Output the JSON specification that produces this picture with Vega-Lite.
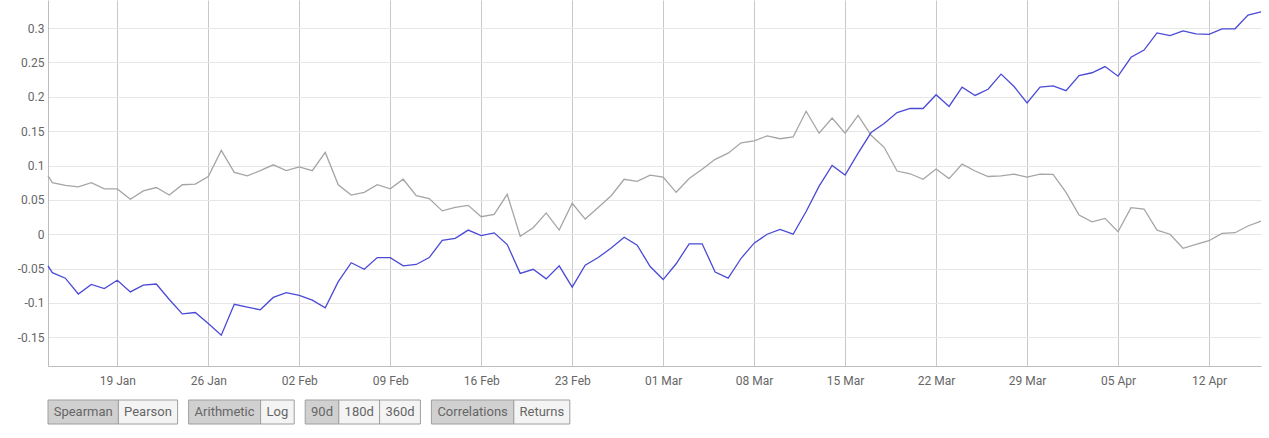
{
  "$schema": "https://vega.github.io/schema/vega-lite/v6.json",
  "background": "white",
  "padding": {"left": 0, "top": 0, "right": 0, "bottom": 0},
  "config": {"view": {"stroke": null}, "font": "Roboto"},
  "spacing": 34,
  "bounds": "flush",
  "vconcat": [
    {
      "width": 1213,
      "height": 366,
      "data": {"values": [
        {"date": "2020-01-13T16:00:00Z", "a": -0.046, "b": 0.085},
        {"date": "2020-01-14", "a": -0.056, "b": 0.075},
        {"date": "2020-01-15", "a": -0.064, "b": 0.071},
        {"date": "2020-01-16", "a": -0.087, "b": 0.069},
        {"date": "2020-01-17", "a": -0.073, "b": 0.075},
        {"date": "2020-01-18", "a": -0.079, "b": 0.066},
        {"date": "2020-01-19", "a": -0.067, "b": 0.066},
        {"date": "2020-01-20", "a": -0.084, "b": 0.051},
        {"date": "2020-01-21", "a": -0.074, "b": 0.063},
        {"date": "2020-01-22", "a": -0.0725, "b": 0.068},
        {"date": "2020-01-23", "a": -0.095, "b": 0.057},
        {"date": "2020-01-24", "a": -0.116, "b": 0.072},
        {"date": "2020-01-25", "a": -0.114, "b": 0.073},
        {"date": "2020-01-26", "a": -0.130, "b": 0.084},
        {"date": "2020-01-27", "a": -0.147, "b": 0.122},
        {"date": "2020-01-28", "a": -0.102, "b": 0.090},
        {"date": "2020-01-29", "a": -0.106, "b": 0.085},
        {"date": "2020-01-30", "a": -0.110, "b": 0.0925},
        {"date": "2020-01-31", "a": -0.092, "b": 0.101},
        {"date": "2020-02-01", "a": -0.085, "b": 0.0925},
        {"date": "2020-02-02", "a": -0.089, "b": 0.098},
        {"date": "2020-02-03", "a": -0.096, "b": 0.0925},
        {"date": "2020-02-04", "a": -0.107, "b": 0.119},
        {"date": "2020-02-05", "a": -0.069, "b": 0.072},
        {"date": "2020-02-06", "a": -0.0415, "b": 0.057},
        {"date": "2020-02-07", "a": -0.051, "b": 0.061},
        {"date": "2020-02-08", "a": -0.034, "b": 0.072},
        {"date": "2020-02-09", "a": -0.034, "b": 0.066},
        {"date": "2020-02-10", "a": -0.046, "b": 0.080},
        {"date": "2020-02-11", "a": -0.044, "b": 0.056},
        {"date": "2020-02-12", "a": -0.034, "b": 0.052},
        {"date": "2020-02-13", "a": -0.009, "b": 0.034},
        {"date": "2020-02-14", "a": -0.006, "b": 0.039},
        {"date": "2020-02-15", "a": 0.006, "b": 0.042},
        {"date": "2020-02-16", "a": -0.002, "b": 0.0255},
        {"date": "2020-02-17", "a": 0.002, "b": 0.029},
        {"date": "2020-02-18", "a": -0.015, "b": 0.058},
        {"date": "2020-02-19", "a": -0.057, "b": -0.003},
        {"date": "2020-02-20", "a": -0.051, "b": 0.0095},
        {"date": "2020-02-21", "a": -0.065, "b": 0.031},
        {"date": "2020-02-22", "a": -0.046, "b": 0.006},
        {"date": "2020-02-23", "a": -0.077, "b": 0.045},
        {"date": "2020-02-24", "a": -0.045, "b": 0.022},
        {"date": "2020-02-25", "a": -0.034, "b": 0.039},
        {"date": "2020-02-26", "a": -0.020, "b": 0.056},
        {"date": "2020-02-27", "a": -0.0045, "b": 0.080},
        {"date": "2020-02-28", "a": -0.016, "b": 0.077},
        {"date": "2020-02-29", "a": -0.047, "b": 0.086},
        {"date": "2020-03-01", "a": -0.066, "b": 0.083},
        {"date": "2020-03-02", "a": -0.043, "b": 0.061},
        {"date": "2020-03-03", "a": -0.014, "b": 0.081},
        {"date": "2020-03-04", "a": -0.014, "b": 0.0945},
        {"date": "2020-03-05", "a": -0.055, "b": 0.109},
        {"date": "2020-03-06", "a": -0.064, "b": 0.118},
        {"date": "2020-03-07", "a": -0.035, "b": 0.133},
        {"date": "2020-03-08", "a": -0.013, "b": 0.136},
        {"date": "2020-03-09", "a": 0.000, "b": 0.143},
        {"date": "2020-03-10", "a": 0.007, "b": 0.139},
        {"date": "2020-03-11", "a": 0.000, "b": 0.1415},
        {"date": "2020-03-12", "a": 0.033, "b": 0.179},
        {"date": "2020-03-13", "a": 0.070, "b": 0.147},
        {"date": "2020-03-14", "a": 0.100, "b": 0.169},
        {"date": "2020-03-15", "a": 0.086, "b": 0.147},
        {"date": "2020-03-16", "a": 0.118, "b": 0.173},
        {"date": "2020-03-17", "a": 0.148, "b": 0.144},
        {"date": "2020-03-18", "a": 0.161, "b": 0.1265},
        {"date": "2020-03-19", "a": 0.177, "b": 0.092},
        {"date": "2020-03-20", "a": 0.183, "b": 0.088},
        {"date": "2020-03-21", "a": 0.183, "b": 0.080},
        {"date": "2020-03-22", "a": 0.203, "b": 0.095},
        {"date": "2020-03-23", "a": 0.186, "b": 0.081},
        {"date": "2020-03-24", "a": 0.214, "b": 0.102},
        {"date": "2020-03-25", "a": 0.202, "b": 0.092},
        {"date": "2020-03-26", "a": 0.211, "b": 0.084},
        {"date": "2020-03-27", "a": 0.233, "b": 0.085},
        {"date": "2020-03-28", "a": 0.215, "b": 0.0875},
        {"date": "2020-03-29", "a": 0.191, "b": 0.083},
        {"date": "2020-03-30", "a": 0.214, "b": 0.0875},
        {"date": "2020-03-31", "a": 0.216, "b": 0.087},
        {"date": "2020-04-01", "a": 0.209, "b": 0.061},
        {"date": "2020-04-02", "a": 0.231, "b": 0.028},
        {"date": "2020-04-03", "a": 0.235, "b": 0.018},
        {"date": "2020-04-04", "a": 0.244, "b": 0.023},
        {"date": "2020-04-05", "a": 0.230, "b": 0.0036},
        {"date": "2020-04-06", "a": 0.2575, "b": 0.0386},
        {"date": "2020-04-07", "a": 0.268, "b": 0.0367},
        {"date": "2020-04-08", "a": 0.293, "b": 0.006},
        {"date": "2020-04-09", "a": 0.289, "b": 0.000},
        {"date": "2020-04-10", "a": 0.296, "b": -0.0205},
        {"date": "2020-04-11", "a": 0.2915, "b": -0.0147},
        {"date": "2020-04-12", "a": 0.291, "b": -0.0095},
        {"date": "2020-04-13", "a": 0.299, "b": 0.0013},
        {"date": "2020-04-14", "a": 0.299, "b": 0.0022},
        {"date": "2020-04-15", "a": 0.319, "b": 0.012},
        {"date": "2020-04-16", "a": 0.3235, "b": 0.019}
      ]},
      "encoding": {
        "x": {
          "field": "date", "type": "temporal",
          "scale": {"type": "utc", "nice": false},
          "axis": {
            "title": null,
            "labelExpr": "utcFormat(datum.value, '%d %b')",
            "tickCount": {"interval": "week", "step": 1},
            "ticks": false, "labelPadding": 9, "labelFlush": false, "labelOverlap": false,
            "domain": true, "domainColor": "#bdbdbd", "gridColor": "#c8c8c8",
            "labelColor": "#666666", "labelFontSize": 12, "labelFont": "Roboto"
          }
        }
      },
      "layer": [
        {
          "mark": {"type": "line", "color": "#a5a5a5", "strokeWidth": 1.3},
          "encoding": {
            "y": {
              "field": "b", "type": "quantitative",
              "scale": {"domain": [-0.1918, 0.3409], "nice": false, "zero": false},
              "axis": {
                "title": null,
                "values": [-0.15, -0.1, -0.05, 0, 0.05, 0.1, 0.15, 0.2, 0.25, 0.3],
                "labelExpr": "datum.value == 0 ? '0' : toString(round(datum.value * 100) / 100)",
                "ticks": false, "labelPadding": 4,
                "domain": true, "domainColor": "#bdbdbd", "gridColor": "#e6e6e6",
                "labelColor": "#666666", "labelFontSize": 12, "labelFont": "Roboto",
                "minExtent": 48, "maxExtent": 48
              }
            }
          }
        },
        {
          "mark": {"type": "line", "color": "#4a4ad6", "strokeWidth": 1.3},
          "encoding": {
            "y": {
              "field": "a", "type": "quantitative",
              "scale": {"domain": [-0.1918, 0.3409], "nice": false, "zero": false}
            }
          }
        }
      ]
    },
    {
      "width": 1213,
      "height": 24,
      "data": {"values": [
        {"order": 1, "group": 1, "label": "Spearman", "state": "on"},
        {"order": 2, "group": 1, "label": "Pearson", "state": "off"},
        {"order": 3, "group": 2, "label": "Arithmetic", "state": "on"},
        {"order": 4, "group": 2, "label": "Log", "state": "off"},
        {"order": 5, "group": 3, "label": "90d", "state": "on"},
        {"order": 6, "group": 3, "label": "180d", "state": "off"},
        {"order": 7, "group": 3, "label": "360d", "state": "off"},
        {"order": 8, "group": 4, "label": "Correlations", "state": "on"},
        {"order": 9, "group": 4, "label": "Returns", "state": "off"}
      ]},
      "transform": [
        {"calculate": "7.2 * length(datum.label) - 3.2 * (length(datum.label) - length(replace(datum.label, /[iltrfj]/g, ''))) + 4 * (length(datum.label) - length(replace(datum.label, /m/g, ''))) + 12", "as": "w"},
        {"window": [{"op": "sum", "field": "w", "as": "cum"}], "sort": [{"field": "order"}], "frame": [null, 0]},
        {"calculate": "datum.cum - datum.w + (datum.group - 1) * 11", "as": "start"},
        {"calculate": "datum.start + datum.w", "as": "end"},
        {"calculate": "datum.start + datum.w / 2", "as": "mid"}
      ],
      "layer": [
        {
          "mark": {"type": "rect", "stroke": "#9e9e9e", "strokeWidth": 1},
          "encoding": {
            "x": {"field": "start", "type": "quantitative", "scale": {"domain": [0, 1213], "nice": false, "zero": false}, "axis": null},
            "x2": {"field": "end"},
            "fill": {"field": "state", "type": "nominal", "scale": {"domain": ["on", "off"], "range": ["#d0d0d0", "#f4f4f4"]}, "legend": null}
          }
        },
        {
          "mark": {"type": "text", "fontSize": 13, "font": "Roboto", "color": "#666666", "baseline": "middle", "align": "center"},
          "encoding": {
            "x": {"field": "mid", "type": "quantitative", "scale": {"domain": [0, 1213], "nice": false, "zero": false}, "axis": null},
            "text": {"field": "label"}
          }
        }
      ]
    }
  ]
}
